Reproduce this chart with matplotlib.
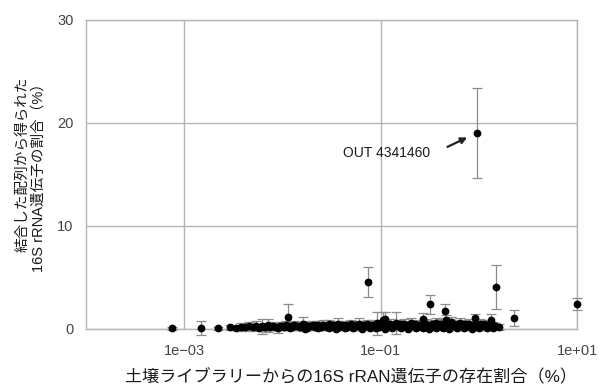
import matplotlib
matplotlib.use("Agg")
import matplotlib.pyplot as plt

plt.rcParams['font.family'] = ['Liberation Sans', 'Noto Sans CJK JP', 'DejaVu Sans']

# soil library abundance (%)
abundance = [
    0.00075, 0.0015, 0.0022, 0.0029, 0.0034, 0.0038, 0.0042, 0.0046, 0.0050, 0.0054,
    0.0058, 0.0062, 0.0066, 0.0071, 0.0075, 0.0080, 0.0085, 0.0090, 0.0095, 0.0100,
    0.0105, 0.0110, 0.0114, 0.0120, 0.0126, 0.0132, 0.0138, 0.0145, 0.0152, 0.0162,
    0.0170, 0.0178, 0.0186, 0.0195, 0.0205, 0.0215, 0.0225, 0.0236, 0.0248, 0.0260,
    0.0272, 0.0285, 0.0298, 0.0312, 0.0327, 0.0342, 0.0367, 0.0380, 0.0400, 0.0420,
    0.0440, 0.0460, 0.0480, 0.0500, 0.0530, 0.0550, 0.0580, 0.0600, 0.0630, 0.0660,
    0.069, 0.072, 0.074, 0.076, 0.080, 0.084, 0.088, 0.092, 0.096, 0.100,
    0.105, 0.110, 0.115, 0.120, 0.126, 0.132, 0.138, 0.143, 0.150, 0.157,
    0.164, 0.172, 0.180, 0.188, 0.197, 0.206, 0.216, 0.226, 0.237, 0.248,
    0.260, 0.269, 0.280, 0.293, 0.307, 0.320, 0.335, 0.351, 0.368, 0.385,
    0.403, 0.422, 0.442, 0.450, 0.463, 0.485, 0.508, 0.519, 0.532, 0.557,
    0.583, 0.610, 0.640, 0.670, 0.700, 0.730, 0.770, 0.800, 0.840, 0.880,
    0.91, 0.95, 0.99, 1.04, 1.09, 1.14, 1.19, 1.25, 1.32, 1.38,
    1.45, 1.50, 1.60, 2.30, 10.0,
    0.012, 0.017, 0.023, 0.030, 0.035, 0.043, 0.052, 0.065, 0.078, 0.090,
    0.110, 0.130, 0.160, 0.190, 0.230, 0.270, 0.310, 0.370, 0.430, 0.500,
    0.600, 0.700, 0.850, 1.000, 1.200, 1.400,
]

# share of 16S rRNA genes obtained from bound sequences (%)
bound_share = [
    0.05, 0.10, 0.05, 0.15, 0.10, 0.20, 0.15, 0.25, 0.20, 0.30,
    0.10, 0.25, 0.20, 0.35, 0.15, 0.30, 0.20, 0.10, 0.25, 0.30,
    0.20, 0.35, 1.15, 0.30, 0.15, 0.40, 0.25, 0.30, 0.20, 0.50,
    0.35, 0.10, 0.30, 0.25, 0.40, 0.20, 0.35, 0.30, 0.15, 0.40,
    0.30, 0.20, 0.45, 0.25, 0.35, 0.30, 0.50, 0.20, 0.35, 0.25,
    0.40, 0.15, 0.30, 0.45, 0.20, 0.35, 0.30, 0.50, 0.25, 0.40,
    0.30, 0.45, 4.55, 0.35, 0.25, 0.40, 0.30, 0.55, 0.20, 0.45,
    0.90, 1.00, 0.35, 0.30, 0.50, 0.25, 0.40, 0.60, 0.30, 0.45,
    0.30, 0.50, 0.25, 0.40, 0.35, 0.55, 0.30, 0.45, 0.20, 0.40,
    0.35, 1.00, 0.30, 0.50, 0.25, 2.40, 0.45, 0.30, 0.55, 0.35,
    0.50, 0.30, 0.45, 1.75, 0.90, 0.35, 0.50, 0.70, 0.25, 0.45,
    0.40, 0.30, 0.55, 0.35, 0.20, 0.45, 0.30, 0.50, 0.25, 0.40,
    1.05, 19.0, 0.35, 0.50, 0.30, 0.45, 0.25, 0.40, 0.90, 0.35,
    0.30, 4.10, 0.20, 1.05, 2.40,
    0.05, 0.00, 0.10, 0.05, 0.00, 0.10, 0.05, 0.00, 0.10, 0.05,
    0.00, 0.05, 0.10, 0.00, 0.05, 0.10, 0.00, 0.05, 0.10, 0.00,
    0.05, 0.10, 0.00, 0.05, 0.10, 0.05,
]

# error
share_err = [
    0.10, 0.70, 0.10, 0.20, 0.20, 0.35, 0.20, 0.40, 0.30, 0.45,
    0.20, 0.70, 0.35, 0.65, 0.20, 0.40, 0.30, 0.50, 0.30, 0.35,
    0.30, 0.40, 1.25, 0.35, 0.20, 0.40, 0.30, 0.35, 0.30, 0.65,
    0.40, 0.20, 0.35, 0.30, 0.40, 0.30, 0.40, 0.35, 0.20, 0.45,
    0.35, 0.30, 0.45, 0.30, 0.40, 0.35, 0.55, 0.30, 0.40, 0.30,
    0.40, 0.20, 0.35, 0.45, 0.30, 0.40, 0.35, 0.55, 0.30, 0.40,
    0.35, 0.45, 1.45, 0.40, 0.30, 0.45, 0.35, 1.10, 0.30, 0.45,
    0.70, 0.60, 0.40, 0.35, 0.50, 0.30, 0.40, 1.05, 0.35, 0.45,
    0.35, 0.50, 0.30, 0.40, 0.35, 0.50, 0.35, 0.45, 0.30, 0.40,
    0.35, 0.55, 0.35, 0.50, 0.30, 0.90, 0.45, 0.35, 0.50, 0.40,
    0.45, 0.35, 0.40, 0.65, 0.45, 0.40, 0.45, 0.50, 0.30, 0.45,
    0.40, 0.35, 0.50, 0.40, 0.30, 0.45, 0.35, 0.50, 0.30, 0.40,
    0.40, 4.35, 0.40, 0.45, 0.35, 0.40, 0.30, 0.40, 0.55, 0.35,
    0.30, 2.15, 0.25, 0.80, 0.60,
    0.10, 0.10, 0.10, 0.10, 0.10, 0.10, 0.10, 0.10, 0.10, 0.10,
    0.10, 0.10, 0.10, 0.10, 0.10, 0.10, 0.10, 0.10, 0.10, 0.10,
    0.10, 0.10, 0.10, 0.10, 0.10, 0.10,
]

x_ticks = [1e-3, 1e-1, 1e1]
x_tick_labels = ["1e\u221203", "1e\u221201", "1e+01"]
y_ticks = [0, 10, 20, 30]
y_tick_labels = ["0", "10", "20", "30"]

highlight_label = "OUT 4341460"
highlight_x = 0.95
highlight_y = 19.0

xlabel = "土壌ライブラリーからの16S rRAN遺伝子の存在割合（%）"
ylabel = "結合した配列から得られた\n16S rRNA遺伝子の割合（%）"

fig = plt.figure(figsize=(6.0, 3.86), dpi=100)
ax = fig.add_axes([86 / 600, 1 - 329 / 386, 491 / 600, 309.5 / 386])

ax.set_xscale("log")
ax.set_xlim(1e-4, 1e1)
ax.set_ylim(0, 30)

grey = "#b5b5b5"
ax.grid(True, color=grey, linewidth=1.0, zorder=0)
ax.set_axisbelow(True)
for s in ax.spines.values():
    s.set_color(grey)
    s.set_linewidth(1.0)

ax.set_xticks(x_ticks)
ax.set_xticklabels(x_tick_labels)
ax.xaxis.set_minor_locator(matplotlib.ticker.NullLocator())
ax.set_yticks(y_ticks)
ax.set_yticklabels(y_tick_labels)
ax.tick_params(axis="both", length=0, labelsize=10.5, labelcolor="#444444")
ax.tick_params(axis="x", pad=11)
ax.tick_params(axis="y", pad=9)

ax.errorbar(abundance, bound_share, yerr=share_err, fmt="none",
            ecolor="#8c8c8c", elinewidth=0.9, capsize=3.3, capthick=0.9,
            zorder=3, clip_on=False)
ax.plot(abundance, bound_share, "o", color="black", markersize=5.6,
        markeredgewidth=0, zorder=4, clip_on=False)

ax.annotate("", xy=(highlight_x, highlight_y), xytext=(-21, -10),
            textcoords="offset points",
            arrowprops=dict(arrowstyle="-|>", color="#222222", lw=1.6,
                            mutation_scale=9, shrinkA=0, shrinkB=7.5),
            zorder=5)
ax.annotate(highlight_label, xy=(highlight_x, highlight_y), xytext=(-65, -14.5),
            textcoords="offset points", ha="center", va="center",
            fontsize=10, color="#1a1a1a", zorder=5)

ax.set_xlabel(xlabel, fontsize=12.3, color="#1a1a1a")
ax.xaxis.set_label_coords(0.54, -0.13)
ax.set_ylabel(ylabel, fontsize=10.5, color="#1a1a1a", multialignment="right",
              linespacing=1.2)
ax.yaxis.set_label_coords(-0.082, 0.5)

fig.savefig("out.png", dpi=100)
